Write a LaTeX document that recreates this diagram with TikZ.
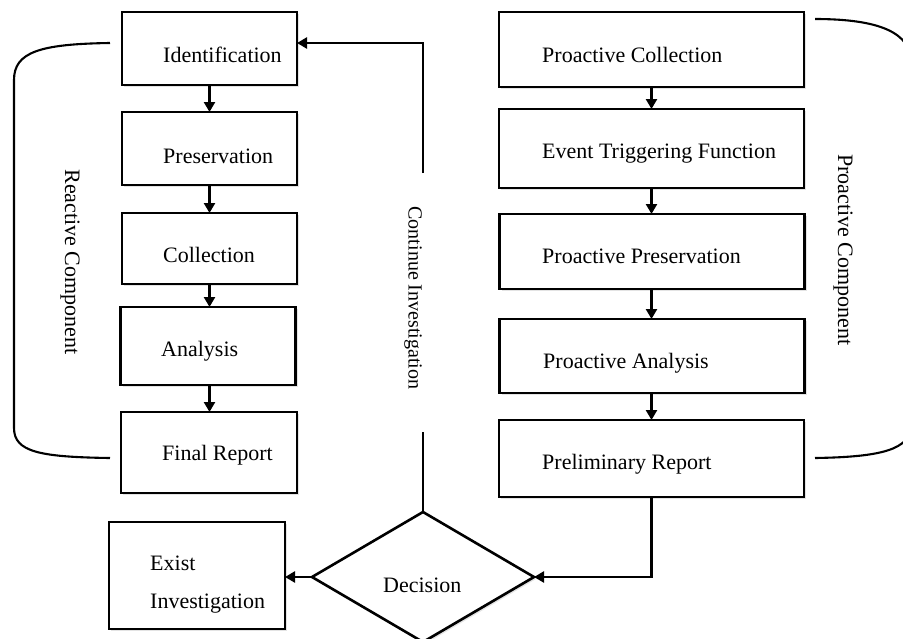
\documentclass[tikz,border=0pt]{standalone}
\usepackage{fontspec}
\setmainfont{Liberation Serif}
\usetikzlibrary{arrows.meta,shapes.geometric,shadows}
\tikzset{
  boxshape/.style={draw, line width=2.6pt, fill=white, inner sep=0pt, outer sep=0pt,
    drop shadow={shadow xshift=2pt, shadow yshift=-2pt, opacity=.22, fill=gray}},
  lbl/.style={anchor=base west, inner sep=0pt, font=\fontsize{22}{26}\selectfont},
  vlbl/.style={rotate=-90, inner sep=0pt, font=\fontsize{22}{26}\selectfont},
  arr/.style={line width=2.4pt, -{Triangle[length=10pt,width=11pt]}},
  plain/.style={line width=2.4pt},
  brace/.style={line width=2.1pt},
}
\begin{document}
\begin{tikzpicture}[x=1pt,y=-1pt]
\useasboundingbox (0,0) rectangle (903,638);
\clip (0,0) rectangle (903,638);
% left column
\node[boxshape, minimum width=175pt, minimum height=73pt] (id) at (209.5,48.5) {};
\node[boxshape, minimum width=175pt, minimum height=73pt] (pres) at (209.5,148.5) {};
\node[boxshape, minimum width=175pt, minimum height=71pt] (coll) at (209.5,248.5) {};
\node[boxshape, minimum width=175pt, minimum height=78pt] (ana) at (208,346) {};
\node[boxshape, minimum width=176pt, minimum height=81pt] (fin) at (209,452.5) {};
\node[lbl] (idt) at (163,62) {Identification};
\node[lbl] (prest) at (163,163) {Preservation};
\node[lbl] (collt) at (163,262) {Collection};
\node[lbl] (anat) at (161,356) {Analysis};
\node[lbl] (fint) at (162,460) {Final Report};
% right column
\node[boxshape, minimum width=305pt, minimum height=75pt] (pc) at (651.5,49.5) {};
\node[boxshape, minimum width=305pt, minimum height=79pt] (etf) at (651.5,148.5) {};
\node[boxshape, minimum width=305pt, minimum height=75pt] (pp) at (652,251.5) {};
\node[boxshape, minimum width=305pt, minimum height=74pt] (pa) at (652,356) {};
\node[boxshape, minimum width=305pt, minimum height=77pt] (pr) at (651.5,458.5) {};
\node[lbl] (pct) at (542,62) {Proactive Collection};
\node[lbl] (etft) at (542,158) {Event Triggering Function};
\node[lbl] (ppt) at (542,263) {Proactive Preservation};
\node[lbl] (pat) at (543,368) {Proactive Analysis};
\node[lbl] (prt) at (542,469) {Preliminary Report};
% bottom
\node[boxshape, minimum width=176pt, minimum height=107pt] (ex) at (197,575.5) {};
\node[lbl] (ext1) at (150,570) {Exist};
\node[lbl] (ext2) at (150,608) {Investigation};
\node[boxshape, diamond, minimum width=222pt, minimum height=130pt] (dec) at (423,577) {};
\node[lbl] (dect) at (383,592) {Decision};
% arrows
\draw[arr] (id) -- (pres);
\draw[arr] (pres) -- (coll.north -| pres.south);
\draw[arr] (coll.south) -- (coll.south |- ana.north);
\draw[arr] (ana.south -| coll.south) -- (fin.north -| coll.south);
\draw[arr] (pc) -- (etf);
\draw[arr] (etf) -- (pp.north -| etf.south);
\draw[arr] (pp.south -| etf.south) -- (pa.north -| etf.south);
\draw[arr] (pa.south -| etf.south) -- (pr.north -| etf.south);
\draw[arr] (pr.south) |- (dec.east);
\draw[arr] (dec.west) -- (dec.west -| ex.east);
\coordinate (cl) at (423,432);
\coordinate (cu) at (423,173);
\draw[plain] (dec.north) -- (cl);
\draw[arr] (cu) |- ([yshift=5.5pt]id.east);
\node[vlbl, font=\fontsize{20}{24}\selectfont] (cont) at (413,298) {Continue Investigation};
% brackets
\coordinate (la) at (110,43);
\coordinate (lb) at (110,458);
\draw[brace] (la) .. controls (40,44) and (14,52) .. (14,80) -- (14,428) .. controls (14,452) and (40,457) .. (lb);
\coordinate (ra) at (815,19);
\coordinate (rb) at (815,458);
\draw[brace] (ra) .. controls (880,19) and (911,33) .. (911,62) -- (911,425) .. controls (911,450) and (880,457) .. (rb);
\node[vlbl] (react) at (70,262) {Reactive Component};
\node[vlbl] (proact) at (843,250) {Proactive Component};
\end{tikzpicture}
\end{document}
